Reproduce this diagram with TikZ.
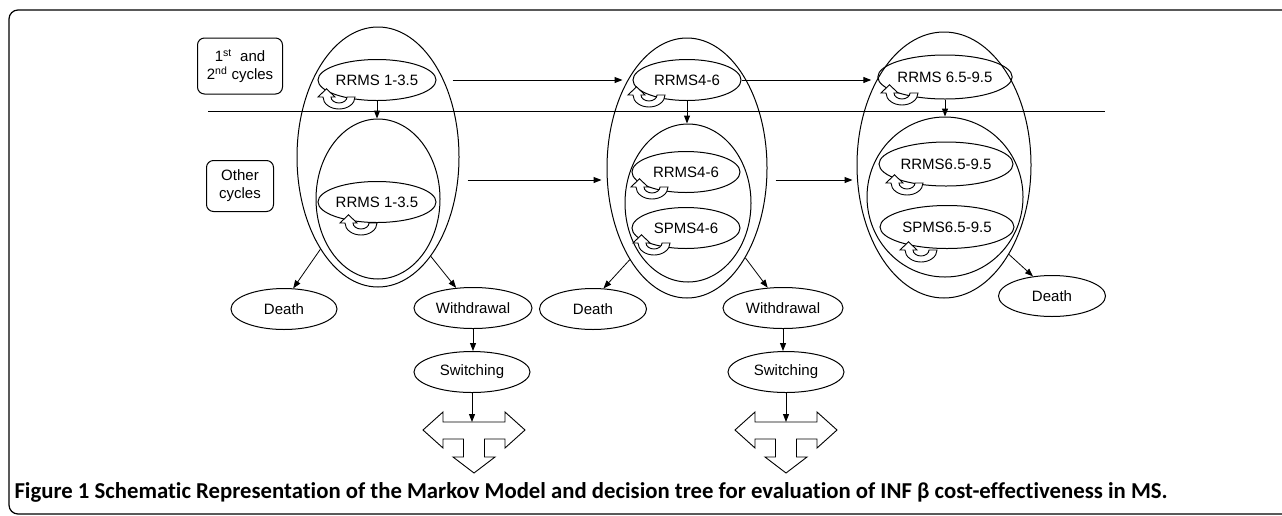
\documentclass[tikz,border=0pt]{standalone}
\usepackage{graphicx}
\usepackage{fontspec}
\setmainfont{Liberation Sans}
\newfontfamily\captionfont[Ligatures={NoCommon}]{Carlito}
\usetikzlibrary{shapes.geometric,arrows.meta}

% hollow circular arrow for staying in a state
\newcommand{\loopmark}[1]{%
  \draw[fill=white, line width=0.9pt, shift={(#1)}, yscale=-0.75]
    (16,0) arc[start angle=0, end angle=-180, radius=16]
    -- (-21,0) -- (-12.5,11) -- (-4,0) -- (-8,0)
    arc[start angle=180, end angle=360, radius=8] -- cycle;}

% three-way block arrow under a switching node
\newcommand{\forkmark}[1]{%
  \draw[line width=0.9pt, shift={(#1)}]
    (-51,0) -- (-31,-18) -- (-31,-8) -- (31,-8) -- (31,-18) -- (51,0)
    -- (31,18) -- (31,9) -- (10.5,9) -- (10.5,27) -- (21,27) -- (0,43)
    -- (-21,27) -- (-10.5,27) -- (-10.5,9) -- (-31,9) -- (-31,18) -- cycle;}

\begin{document}
\begin{tikzpicture}[x=1pt, y=-1pt, line width=1pt,
    state_node/.style={ellipse, draw, inner sep=0, minimum height=41pt, font=\fontsize{15}{17}\selectfont},
    group_node/.style={ellipse, draw, inner sep=0},
    cycle_box/.style={draw, rounded corners=7pt, align=center, inner sep=0, font=\fontsize{15}{18}\selectfont},
    flow/.style={-{Triangle[length=8pt,width=6pt]}}]
    \useasboundingbox (0,0) rectangle (1282,515);
    \draw[line width=1.2pt, rounded corners=9pt] (1295,10) -- (9,10) -- (9,514) -- (1295,514);

    % row labels
    \node[cycle_box, minimum width=85pt, minimum height=56pt] (first_box) at (240,66) {1\textsuperscript{st}\ \ and\\2\textsuperscript{nd} cycles};
    \node[cycle_box, minimum width=67pt, minimum height=51pt] (other_box) at (240,186) {Other\\cycles};
    \draw (208,111) -- (1105,111);

    % groups
    \node[group_node, minimum width=162pt, minimum height=260pt] (outer1) at (378,157) {};
    \node[group_node, minimum width=124pt, minimum height=160pt] (inner1) at (378,199) {};
    \node[group_node, minimum width=160pt, minimum height=260pt] (outer2) at (687,168) {};
    \node[group_node, minimum width=126pt, minimum height=158pt] (inner2) at (688,203) {};
    \node[group_node, minimum width=174pt, minimum height=266pt] (outer3) at (944,165) {};
    \node[group_node, minimum width=156pt, minimum height=160pt] (inner3) at (945,197) {};

    % states
    \node[state_node, minimum width=118pt] (rrms1a) at (377,80) {RRMS 1-3.5};
    \node[state_node, minimum width=118pt] (rrms1b) at (377,202) {RRMS 1-3.5};
    \node[state_node, minimum width=108pt] (rrms2a) at (687,80) {RRMS4-6};
    \node[state_node, minimum width=108pt] (rrms2b) at (686,172) {RRMS4-6};
    \node[state_node, minimum width=108pt] (spms2) at (686,228) {SPMS4-6};
    \node[state_node, minimum width=131pt, minimum height=44pt] (rrms3a) at (945,77) {RRMS 6.5-9.5};
    \node[state_node, minimum width=134pt, minimum height=44pt] (rrms3b) at (946,164) {RRMS6.5-9.5};
    \node[state_node, minimum width=134pt, minimum height=43pt] (spms3) at (947,227) {SPMS6.5-9.5};

    \node[state_node, minimum width=106pt] (death1) at (284,309) {Death};
    \node[state_node, minimum width=118pt] (wd1) at (473,308) {Withdrawal};
    \node[state_node, minimum width=116pt] (sw1) at (472,372) {Switching};
    \node[state_node, minimum width=107pt] (death2) at (593,309) {Death};
    \node[state_node, minimum width=120pt] (wd2) at (783,308) {Withdrawal};
    \node[state_node, minimum width=116pt] (sw2) at (786,372) {Switching};
    \node[state_node, minimum width=107pt] (death3) at (1052,296) {Death};

    \coordinate (row2) at (0,180);
    \coordinate (fork1) at (474,430);
    \coordinate (fork2) at (786,430);

    % transitions
    \draw[flow, shorten <=16pt, shorten >=10pt] (rrms1a.east) -- (rrms2a.west);
    \draw[flow, shorten >=6pt] (rrms2a.east) -- (rrms2a.east -| rrms3a.west);
    \draw[flow, shorten <=8pt, shorten >=5pt] (outer1.east |- row2) -- (outer2.west |- row2);
    \draw[flow, shorten <=8pt, shorten >=4pt] (outer2.east |- row2) -- (outer3.west |- row2);
    \draw[flow] (rrms1a.south) -- (rrms1a.south |- inner1.north);
    \draw[flow] (rrms2a.south) -- (rrms2a.south |- inner2.north);
    \draw[flow] (rrms3a.south) -- (rrms3a.south |- inner3.north);
    \draw[flow, line width=0.8pt] (outer1.238) -- (death1.66);
    \draw[flow, line width=0.8pt] (outer1.298) -- (wd1.130);
    \draw[flow, line width=0.8pt] (outer2.238) -- (death2.63);
    \draw[flow, line width=0.8pt] (outer2.303) -- (wd2.127);
    \draw[flow, line width=0.8pt] (outer3.306) -- (death3.134);
    \draw[flow] (wd1.south) -- (wd1.south |- sw1.north);
    \draw[flow] (wd2.south) -- (wd2.south |- sw2.north);
    \draw[flow, shorten >=8pt] (sw1.south) -- (sw1.south |- fork1);
    \draw[flow, shorten >=8pt] (sw2.south) -- (sw2.south |- fork2);

    % self loops
    \loopmark{339,97}
    \loopmark{361,223}
    \loopmark{649,95}
    \loopmark{652,187}
    \loopmark{654,243}
    \loopmark{902,93}
    \loopmark{907,183}
    \loopmark{921,250}

    \forkmark{fork1}
    \forkmark{fork2}

    \node[anchor=base west, inner sep=0] (caption) at (14,498) {\resizebox{1153pt}{!}{\captionfont\bfseries\fontsize{19}{22}\selectfont Figure 1 Schematic Representation of the Markov Model and decision tree for evaluation of INF β cost-effectiveness in MS.}};
\end{tikzpicture}
\end{document}
